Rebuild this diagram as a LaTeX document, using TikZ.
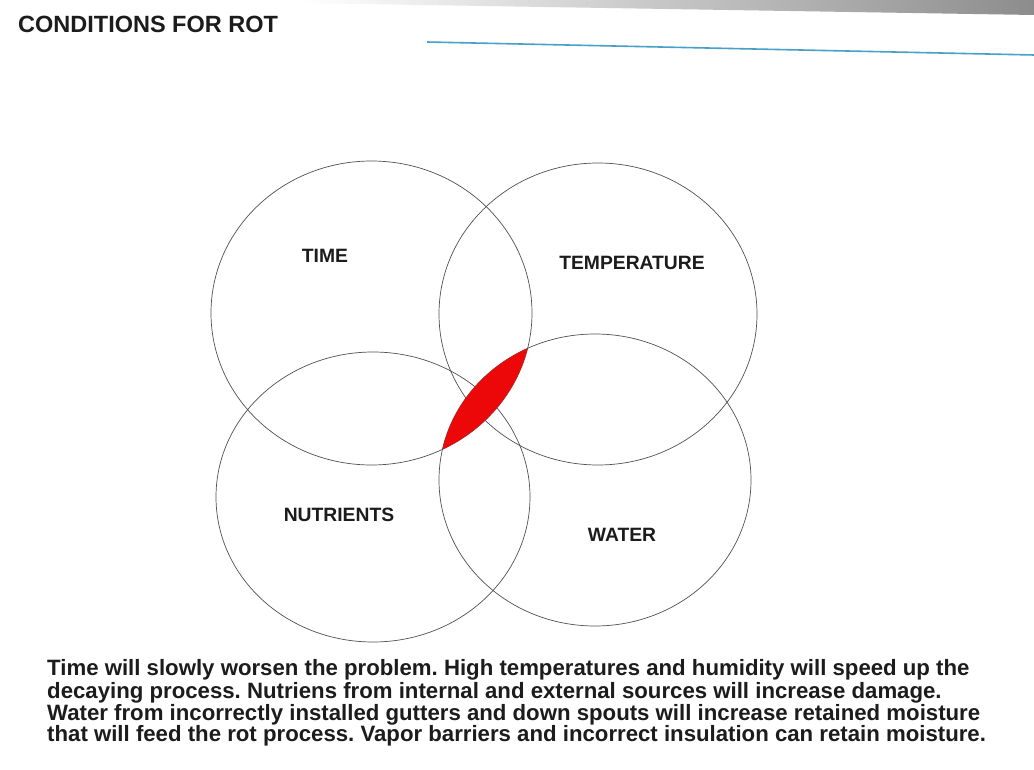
\documentclass[tikz,border=0pt]{standalone}
\usepackage{fontspec}
\setmainfont{Liberation Sans}
\definecolor{ink}{RGB}{28,28,28}
\definecolor{ring}{RGB}{80,80,80}
\definecolor{rotred}{RGB}{236,8,8}
\definecolor{rule}{RGB}{70,160,200}
\tikzset{
  venn/.style={draw=ring, line width=0.7pt},
  setlabel/.style={text=ink, font=\bfseries\fontsize{19.3}{19.3}\selectfont, inner sep=0pt},
  bodyline/.style={text=ink, font=\bfseries\fontsize{22.2}{22.2}\selectfont\frenchspacing, inner sep=0pt, anchor=base west},
}
\begin{document}
\begin{tikzpicture}[x=1pt, y=-1pt]
  \useasboundingbox (0,0) rectangle (1034,770);
  \fill[white] (0,0) rectangle (1034,770);
  % screen edge along the top
  \shade[left color=white, right color=black!45] (300,0) -- (1034,0) -- (1034,15) -- (300,3) -- cycle;
  % heading and rule
  \node[text=ink, font=\bfseries\fontsize{23.5}{23.5}\selectfont, inner sep=0pt, anchor=west] (title) at (18,24) {CONDITIONS FOR ROT};
  \coordinate (ruleA) at (427,42);
  \coordinate (ruleB) at (1034,55);
  \draw[rule, line width=1.6pt] (ruleA) -- (ruleB);

  % circle centres
  \coordinate (cTime) at (371.5,313);
  \coordinate (cTemp) at (598,314);
  \coordinate (cNutr) at (373,497);
  \coordinate (cWater) at (595,480);

  \draw[venn] (cTime) ellipse [x radius=160.5pt, y radius=152pt];
  \draw[venn] (cTemp) ellipse [x radius=159pt, y radius=151pt];
  \draw[venn] (cNutr) ellipse [x radius=157pt, y radius=145pt];
  \draw[venn] (cWater) ellipse [x radius=156pt, y radius=146pt];

  % shared region of time and water, laid over the outlines
  \begin{scope}
    \clip (cTime) ellipse [x radius=160.5pt, y radius=152pt];
    \fill[rotred] (cWater) ellipse [x radius=156pt, y radius=146pt];
  \end{scope}

  \node[setlabel] (lTime) at (325,256) {TIME};
  \node[setlabel] (lTemp) at (632,263) {TEMPERATURE};
  \node[setlabel] (lNutr) at (339,515) {NUTRIENTS};
  \node[setlabel] (lWater) at (622,535) {WATER};

  \node[bodyline] (t1) at (47,675) {Time will slowly worsen the problem. High temperatures and humidity will speed up the};
  \node[bodyline] (t2) at (47,698) {decaying process. Nutriens from internal and external sources will increase damage.};
  \node[bodyline] (t3) at (47,720) {Water from incorrectly installed gutters and down spouts will increase retained moisture};
  \node[bodyline] (t4) at (47,741) {that will feed the rot process. Vapor barriers and incorrect insulation can retain moisture.};
\end{tikzpicture}
\end{document}
